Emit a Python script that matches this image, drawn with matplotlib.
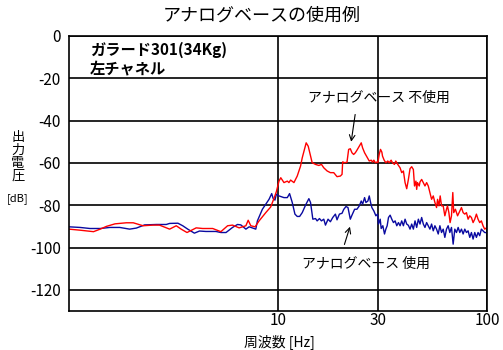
import matplotlib
matplotlib.use('Agg')
from matplotlib import pyplot as plt
from matplotlib.ticker import NullLocator

plt.rcParams['font.family'] = ['Noto Sans CJK JP', 'DejaVu Sans']
plt.rcParams['axes.unicode_minus'] = False

# 周波数 [Hz] / 出力電圧 [dB]
red_f = [1.00, 1.13, 1.31, 1.41, 1.51, 1.66, 1.88, 2.03, 2.26, 2.52, 2.71, 3.03, 3.26, 3.44,
         3.67, 4.06, 4.36, 4.87, 5.33, 5.74, 6.06, 6.52, 7.02, 7.20, 7.41, 7.77, 8.12, 8.74,
         9.23, 9.57, 9.82, 10.11, 10.31, 10.68, 11.08, 11.28, 11.49, 11.92, 12.36, 12.82,
         13.06, 13.45, 13.64, 13.95, 14.31, 14.57, 15.12, 15.68, 16.14, 16.56, 17.18, 17.81,
         18.48, 19.16, 19.88, 20.25, 20.39, 20.84, 21.38, 21.78, 22.18, 22.59, 23.01, 23.44,
         23.86, 24.49, 25.02, 25.40, 25.96, 26.63, 27.33, 27.92, 28.34, 28.75, 29.19, 29.72,
         30.05, 30.49, 30.94, 31.40, 31.63, 32.21, 32.81, 33.53, 34.02, 34.78, 35.29, 36.07,
         36.60, 37.41, 38.38, 39.08, 39.81, 40.55, 41.29, 42.06, 42.83, 43.62, 44.43, 45.0,
         45.7, 46.08, 46.5, 47.4, 47.80, 48.68, 49.58, 50.49, 51.42, 52.36, 53.33, 54.31,
         55.32, 56.33, 57.37, 58.0, 58.9, 59.7, 60.60, 61.72, 62.85, 64.01, 64.7, 65.7, 66.6,
         67.62, 68.61, 69.3, 70.6, 72.3, 74.11, 75.48, 76.87, 78.29, 79.73, 81.21, 82.71,
         84.23, 85.79, 87.37, 88.98, 90.62, 92.29, 93.99, 95.72, 97.48, 100.0]
red_db = [-91.3, -91.8, -92.5, -91.3, -90.0, -88.8, -88.3, -88.3, -89.7, -89.4, -89.4, -91.3,
          -89.7, -91.3, -92.9, -90.7, -91.0, -91.0, -92.5, -89.7, -89.4, -90.7, -89.7, -87.1,
          -89.7, -90.2, -87.4, -83.5, -80.8, -76.7, -73.6, -68.6, -67.0, -69.3, -68.6, -69.3,
          -68.1, -69.3, -66.2, -61.5, -57.6, -52.9, -50.5, -52.1, -56.8, -59.9, -60.7, -61.2,
          -60.7, -62.3, -63.8, -64.6, -64.6, -66.5, -66.2, -65.4, -59.5, -59.9, -59.7, -53.6,
          -53.3, -55.2, -56.0, -55.2, -54.0, -52.1, -50.5, -52.9, -55.2, -57.1, -59.1, -58.7,
          -59.6, -58.7, -59.9, -59.6, -59.9, -56.0, -53.6, -54.9, -56.8, -58.7, -59.9, -59.1,
          -59.9, -58.7, -59.9, -60.7, -59.1, -60.7, -62.3, -64.6, -63.8, -69.3, -72.2, -67.8,
          -62.7, -61.8, -63.1, -70.9, -68.6, -72.5, -69.3, -70.9, -69.0, -67.8, -69.3, -70.9,
          -69.3, -70.9, -74.0, -77.2, -75.6, -78.7, -81.1, -77.2, -80.3, -75.6, -80.3, -80.3,
          -85.0, -81.9, -80.3, -83.5, -88.2, -85.0, -74.0, -83.5, -81.9, -85.0, -82.7, -81.1,
          -83.5, -84.2, -83.5, -86.6, -85.0, -85.8, -88.2, -86.6, -84.2, -86.6, -88.2, -87.4,
          -89.7, -91.3, -90.5]

blue_f = [1.00, 1.13, 1.26, 1.41, 1.57, 1.75, 1.95, 2.10, 2.30, 2.62, 2.92, 3.03, 3.32, 3.50,
          3.70, 3.98, 4.21, 4.52, 5.05, 5.33, 5.64, 6.06, 6.40, 6.64, 7.02, 7.28, 7.83, 7.97,
          8.42, 8.74, 9.06, 9.33, 9.47, 9.67, 9.82, 10.11, 10.68, 11.08, 11.36, 11.70, 12.05,
          12.36, 12.69, 13.06, 13.54, 14.05, 14.31, 14.68, 15.12, 15.39, 15.79, 16.14, 16.56,
          16.87, 17.36, 17.81, 18.28, 18.82, 19.16, 19.67, 20.25, 20.62, 21.15, 21.62, 22.18,
          22.59, 23.26, 23.86, 24.49, 25.02, 25.40, 25.96, 26.34, 26.92, 27.33, 27.73, 28.13,
          28.75, 29.40, 29.94, 30.27, 30.83, 31.17, 31.74, 32.33, 32.81, 33.29, 33.78, 34.40,
          35.03, 35.68, 36.34, 37.01, 37.70, 38.38, 39.08, 39.81, 40.55, 41.29, 42.06, 42.83,
          43.62, 44.43, 45.25, 46.08, 46.94, 47.80, 48.68, 49.58, 50.49, 51.42, 52.36, 53.33,
          54.31, 55.32, 56.33, 57.37, 58.43, 59.51, 60.60, 61.72, 62.85, 64.01, 65.19, 66.39,
          67.62, 68.87, 70.15, 71.45, 72.77, 74.11, 75.48, 76.87, 78.29, 79.73, 81.21, 82.71,
          84.23, 85.79, 87.37, 88.98, 90.62, 92.29, 93.99, 95.72, 97.48, 100.0]
blue_db = [-90.2, -90.5, -91.0, -91.0, -90.5, -90.5, -91.3, -90.8, -89.3, -89.1, -89.1, -88.6,
           -88.5, -89.7, -91.3, -93.2, -92.2, -92.4, -92.4, -92.9, -92.9, -90.5, -89.1, -89.3,
           -91.3, -90.2, -91.3, -87.4, -81.9, -79.5, -77.2, -74.5, -76.7, -77.6, -74.8, -75.6,
           -76.4, -76.4, -74.5, -78.7, -84.2, -85.3, -85.3, -83.5, -80.0, -76.9, -78.7, -86.6,
           -86.3, -87.4, -86.3, -87.4, -86.6, -89.4, -86.6, -87.8, -85.8, -84.2, -86.9, -84.2,
           -83.8, -82.0, -80.6, -81.1, -86.6, -84.7, -81.9, -81.9, -80.3, -78.0, -79.5, -76.4,
           -78.7, -78.0, -75.6, -78.7, -81.1, -82.7, -85.0, -84.2, -88.9, -86.6, -91.0, -89.7,
           -93.6, -91.3, -89.7, -85.8, -84.7, -86.6, -88.2, -87.4, -89.7, -88.2, -89.7, -87.4,
           -89.7, -86.6, -88.9, -89.5, -91.3, -88.9, -91.3, -87.4, -90.5, -86.6, -88.9, -85.8,
           -88.9, -90.5, -88.2, -89.7, -91.3, -88.9, -92.1, -89.7, -91.3, -93.6, -89.7, -92.9,
           -91.3, -95.2, -91.3, -89.7, -92.9, -90.5, -98.4, -91.3, -92.9, -90.5, -92.9, -91.3,
           -93.6, -91.3, -92.9, -92.1, -95.2, -92.9, -96.0, -92.9, -95.2, -92.9, -94.4, -91.3,
           -92.1, -92.9, -93.0]

yticks = [0, -20, -40, -60, -80, -100, -120]
xticks = [10, 30, 100]
xticklabels = ['10', '30', '100']

fig = plt.figure(figsize=(5.03, 3.5), dpi=100)
ax = fig.add_axes([69/503, 39/350, 418/503, 275/350])

ax.plot(blue_f, blue_db, c='#0a0aa0', lw=1.0)
ax.plot(red_f, red_db, c='#ff0000', lw=1.0)

ax.set_xscale('log')
ax.set_xlim(1, 100)
ax.set_ylim(-130, 0)
ax.set_xticks(xticks)
ax.set_xticklabels(xticklabels)
ax.xaxis.set_minor_locator(NullLocator())
ax.set_yticks(yticks)
ax.tick_params(length=0, labelsize=11)
ax.tick_params(axis='y', pad=6)
ax.tick_params(axis='x', pad=1)
ax.grid(True, c='k', lw=1.2)
for sp in ax.spines.values():
    sp.set_linewidth(1.2)

fig.suptitle('アナログベースの使用例', x=262/503, y=1 - 16/350, va='center', fontsize=13)

ax.text(0.05, 0.949, 'ガラード301(34Kg)', transform=ax.transAxes, va='center',
        fontsize=11, fontweight='bold')
ax.text(0.05, 0.878, '左チャネル', transform=ax.transAxes, va='center',
        fontsize=11, fontweight='bold')

# arrows to each curve
ax.annotate('', xy=(22.3, -51.3), xytext=(23.5, -35.8),
            arrowprops=dict(arrowstyle='->', color='k', lw=0.8))
ax.text(30.3, -29.2, 'アナログベース 不使用', ha='center', va='center', fontsize=10)
ax.annotate('', xy=(22.3, -88.9), xytext=(20.6, -99.8),
            arrowprops=dict(arrowstyle='->', color='k', lw=0.8))
ax.text(26.5, -107.8, 'アナログベース 使用', ha='center', va='center', fontsize=10)

fig.text(18/503, 1 - 157/350, '出\n力\n電\n圧', ha='center', va='center',
         fontsize=9.5, linespacing=1.0)
fig.text(18/503, 1 - 199/350, '[dB]', ha='center', va='center', fontsize=8)
fig.text(279/503, 1 - 342/350, '周波数 [Hz]', ha='center', va='center', fontsize=10)

fig.savefig('out.png', dpi=100)
